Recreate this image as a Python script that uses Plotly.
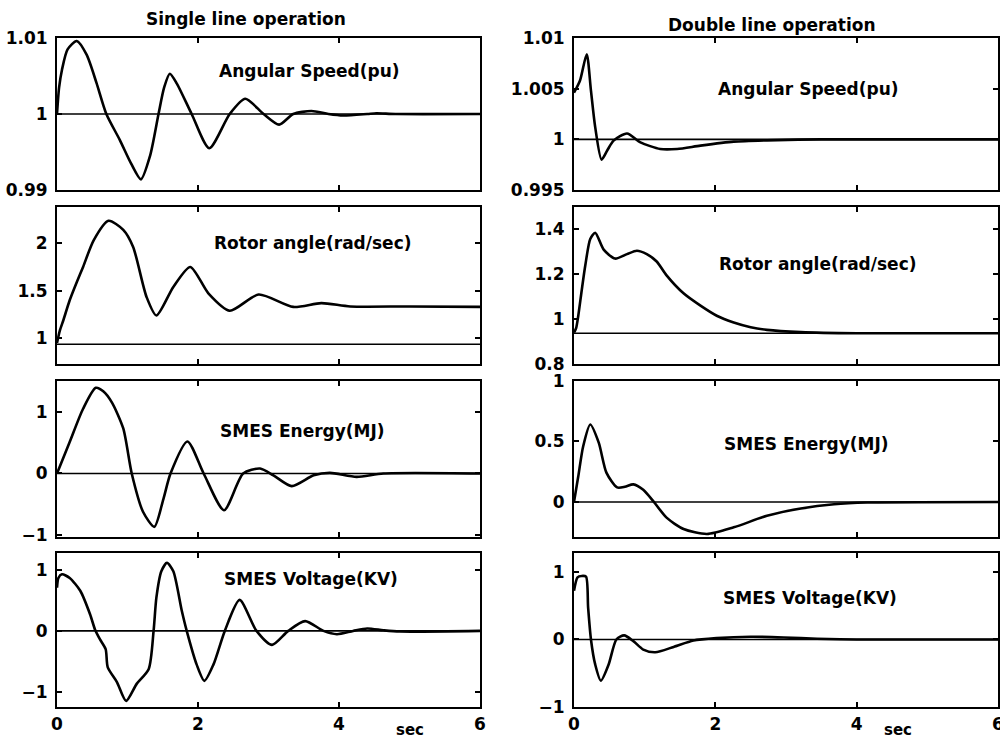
import plotly.graph_objects as go

# ---------------- data ----------------
# Single line operation
speed_single_t = [0, 0.03, 0.07, 0.15, 0.28, 0.42, 0.56, 0.70, 0.89, 1.05, 1.19, 1.32, 1.44, 1.52, 1.60, 1.70,
                  1.91, 2.16, 2.45, 2.67, 2.93, 3.15, 3.35, 3.61, 3.85, 4.06, 4.40, 4.53, 4.80, 6.0]
speed_single = [1.0, 1.0035, 1.0058, 1.0085, 1.0096, 1.0078, 1.0041, 1.0, 0.9966, 0.9935, 0.9914, 0.9945, 1.0,
                1.0035, 1.0053, 1.0040, 1.0, 0.9955, 1.0, 1.002, 1.0, 0.9986, 1.0, 1.0004, 1.0, 0.9998, 1.0,
                1.0001, 1.0, 1.0]

rotor_single_t = [0, 0.04, 0.09, 0.18, 0.28, 0.37, 0.52, 0.73, 0.94, 1.08, 1.27, 1.41, 1.65, 1.89, 2.15, 2.45,
                  2.86, 3.35, 3.75, 4.16, 5.0, 6.0]
rotor_single = [0.95, 1.08, 1.19, 1.40, 1.59, 1.75, 2.03, 2.235, 2.14, 1.96, 1.435, 1.24, 1.54, 1.75, 1.47, 1.29,
                1.46, 1.33, 1.37, 1.335, 1.335, 1.33]

energy_single_t = [0, 0.18, 0.37, 0.55, 0.66, 0.78, 0.94, 1.06, 1.22, 1.38, 1.51, 1.61, 1.85, 2.08, 2.37, 2.64,
                   2.88, 3.07, 3.33, 3.64, 3.87, 4.25, 4.63, 6.0]
energy_single = [0, 0.51, 1.05, 1.39, 1.33, 1.15, 0.73, 0, -0.62, -0.865, -0.41, 0, 0.52, 0, -0.595, 0,
                 0.08, -0.03, -0.205, -0.03, 0.01, -0.055, 0, 0]

voltage_single_t = [0, 0.02, 0.07, 0.18, 0.33, 0.47, 0.54, 0.61, 0.69, 0.72, 0.85, 0.98, 1.13, 1.30, 1.37,
                    1.41, 1.48, 1.56, 1.65, 1.77, 1.84, 1.98, 2.09, 2.22, 2.38, 2.59, 2.83, 3.05, 3.28, 3.52,
                    3.78, 3.97, 4.2, 4.4, 4.63, 4.86, 6.0]
voltage_single = [0.71, 0.87, 0.93, 0.87, 0.66, 0.27, 0.02, -0.14, -0.30, -0.60, -0.84, -1.15, -0.87, -0.63, 0,
                  0.55, 0.98, 1.12, 0.98, 0.33, 0, -0.55, -0.82, -0.55, 0, 0.51, 0, -0.23, 0, 0.16,
                  0, -0.054, 0, 0.04, 0.01, -0.01, 0]

# Double line operation
speed_double_t = [0, 0.085, 0.18, 0.24, 0.30, 0.39, 0.47, 0.56, 0.75, 0.94, 1.22, 1.46, 1.79, 2.26, 2.73, 3.5, 6.0]
speed_double = [1.0046, 1.0058, 1.0084, 1.0048, 1.0012, 0.9980, 0.9989, 0.99987, 1.00057, 0.9997, 0.99905,
                0.99905, 0.99938, 0.99977, 0.9999, 1.0, 1.0]

rotor_double_t = [0, 0.03, 0.06, 0.11, 0.16, 0.23, 0.30, 0.42, 0.58, 0.75, 0.89, 1.03, 1.17, 1.31, 1.55,
                  1.79, 2.02, 2.26, 2.50, 2.73, 3.21, 4.0, 6.0]
rotor_double = [0.94, 0.96, 1.014, 1.13, 1.24, 1.357, 1.385, 1.31, 1.27, 1.29, 1.305, 1.29, 1.257, 1.195, 1.115,
                1.06, 1.015, 0.985, 0.964, 0.952, 0.942, 0.937, 0.937]

energy_double_t = [0, 0.06, 0.13, 0.23, 0.35, 0.46, 0.61, 0.72, 0.84, 0.98, 1.13, 1.31, 1.55, 1.88, 2.26, 2.73,
                   3.21, 3.68, 4.15, 6.0]
energy_double = [0, 0.21, 0.46, 0.64, 0.49, 0.24, 0.12, 0.125, 0.145, 0.10, 0, -0.13, -0.224, -0.265, -0.21,
                 -0.115, -0.055, -0.019, -0.005, 0]

voltage_double_t = [0, 0.05, 0.11, 0.17, 0.20, 0.24, 0.30, 0.38, 0.49, 0.60, 0.71, 0.84, 0.98, 1.15, 1.41, 1.69,
                    2.02, 2.50, 2.97, 3.44, 4.0, 6.0]
voltage_double = [0.72, 0.92, 0.94, 0.93, 0.47, 0, -0.37, -0.61, -0.37, 0, 0.06, -0.025, -0.15, -0.19, -0.11,
                  -0.015, 0.02, 0.04, 0.03, 0.01, 0, 0]

# reference (steady-state) lines
ref_t = [0, 6]
ref_speed = [1.0, 1.0]
ref_rotor = [0.937, 0.937]
ref_zero = [0, 0]

panel_labels = ["Angular Speed(pu)", "Rotor angle(rad/sec)", "SMES Energy(MJ)", "SMES Voltage(KV)"]
column_titles = ["Single line operation", "Double line operation"]

x_ticks = [0, 2, 4, 6]
x_ticktext = ["0", "2", "4", "6"]

# per panel: (t, values, reference, y range, y ticks, y tick text)
panels = [
    (speed_single_t, speed_single, ref_speed, [0.99, 1.01], [0.99, 1.0, 1.01], ["0.99", "1", "1.01"]),
    (speed_double_t, speed_double, ref_speed, [0.995, 1.01], [0.995, 1.0, 1.005, 1.01],
     ["0.995", "1", "1.005", "1.01"]),
    (rotor_single_t, rotor_single, ref_rotor, [0.73, 2.38], [1.0, 1.5, 2.0], ["1", "1.5", "2"]),
    (rotor_double_t, rotor_double, ref_rotor, [0.8, 1.5], [0.8, 1.0, 1.2, 1.4], ["0.8", "1", "1.2", "1.4"]),
    (energy_single_t, energy_single, ref_zero, [-1.03, 1.5], [-1, 0, 1], ["\u22121", "0", "1"]),
    (energy_double_t, energy_double, ref_zero, [-0.29, 1.0], [0, 0.5, 1], ["0", "0.5", "1"]),
    (voltage_single_t, voltage_single, ref_zero, [-1.25, 1.28], [-1, 0, 1], ["\u22121", "0", "1"]),
    (voltage_double_t, voltage_double, ref_zero, [-1.0, 1.28], [-1, 0, 1], ["\u22121", "0", "1"]),
]

# ---------------- layout geometry ----------------
W, H = 1000, 738
col_dom = [[0.057, 0.480], [0.574, 0.998]]
row_px = [(38, 190), (207, 364), (381, 537), (553, 707)]
row_dom = [[1 - b / H, 1 - t / H] for (t, b) in row_px]

FONT = "DejaVu Sans"
fig = go.Figure()
layout = dict(
    width=W, height=H,
    margin=dict(l=0, r=0, t=0, b=0),
    paper_bgcolor="white", plot_bgcolor="white",
    showlegend=False,
    font=dict(family=FONT, size=17, color="black", weight="bold"),
)

for k, (t, v, ref, yr, yt, ytt) in enumerate(panels):
    r, c = divmod(k, 2)
    idx = k + 1
    xa = "x" if idx == 1 else f"x{idx}"
    ya = "y" if idx == 1 else f"y{idx}"
    fig.add_trace(go.Scatter(x=ref_t, y=ref, mode="lines", xaxis=xa, yaxis=ya,
                             line=dict(color="black", width=1.6), hoverinfo="skip"))
    fig.add_trace(go.Scatter(x=t, y=v, mode="lines", xaxis=xa, yaxis=ya,
                             line=dict(color="black", width=2.6, shape="spline", smoothing=0.7)))
    bottom = (r == 3)
    layout["xaxis" if idx == 1 else f"xaxis{idx}"] = dict(
        domain=col_dom[c], anchor=ya, range=[0, 6], tickvals=x_ticks, ticktext=x_ticktext,
        showticklabels=bottom, ticks="inside", ticklen=5, tickwidth=1.5, tickcolor="black",
        showline=True, linecolor="black", linewidth=2, mirror="allticks",
        showgrid=False, zeroline=False, automargin=False, ticklabeloverflow="allow",
        tickfont=dict(family=FONT, size=17, color="black", weight="bold"),
        ticklabelstandoff=1,
    )
    layout["yaxis" if idx == 1 else f"yaxis{idx}"] = dict(
        domain=row_dom[r], anchor=xa, range=yr, tickvals=yt, ticktext=ytt,
        ticks="inside", ticklen=5, tickwidth=1.5, tickcolor="black",
        showline=True, linecolor="black", linewidth=2, mirror="allticks",
        showgrid=False, zeroline=False, automargin=False, ticklabeloverflow="allow",
        tickfont=dict(family=FONT, size=17, color="black", weight="bold"),
        ticklabelstandoff=4,
    )

fig.update_layout(**layout)

# panel labels (pixel positions converted to paper coordinates)
label_px = [
    (309, 71), (808, 89),
    (312, 243), (817, 264),
    (302, 431), (806, 444),
    (311, 579), (810, 598),
]
for k, (px, py) in enumerate(label_px):
    fig.add_annotation(x=px / W, y=1 - py / H, xref="paper", yref="paper", text=panel_labels[k // 2],
                       showarrow=False, xanchor="center", yanchor="middle",
                       font=dict(family=FONT, size=17, color="black", weight="bold"))

for (px, py), txt in zip([(246, 19), (772, 25)], column_titles):
    fig.add_annotation(x=px / W, y=1 - py / H, xref="paper", yref="paper", text=txt,
                       showarrow=False, xanchor="center", yanchor="middle",
                       font=dict(family=FONT, size=17, color="black", weight="bold"))

for px in (410, 898):
    fig.add_annotation(x=px / W, y=1 - 730 / H, xref="paper", yref="paper", text="sec",
                       showarrow=False, xanchor="center", yanchor="middle",
                       font=dict(family=FONT, size=15, color="black", weight="bold"))

fig.write_html("out.html", config={"displayModeBar": False})

# remove the browser's default page margin so the figure sits at the window origin
with open("out.html", "r", encoding="utf-8") as f:
    html = f.read()
html = html.replace("<head>", "<head><style>html,body{margin:0;padding:0;overflow:hidden;}</style>", 1)
with open("out.html", "w", encoding="utf-8") as f:
    f.write(html)
